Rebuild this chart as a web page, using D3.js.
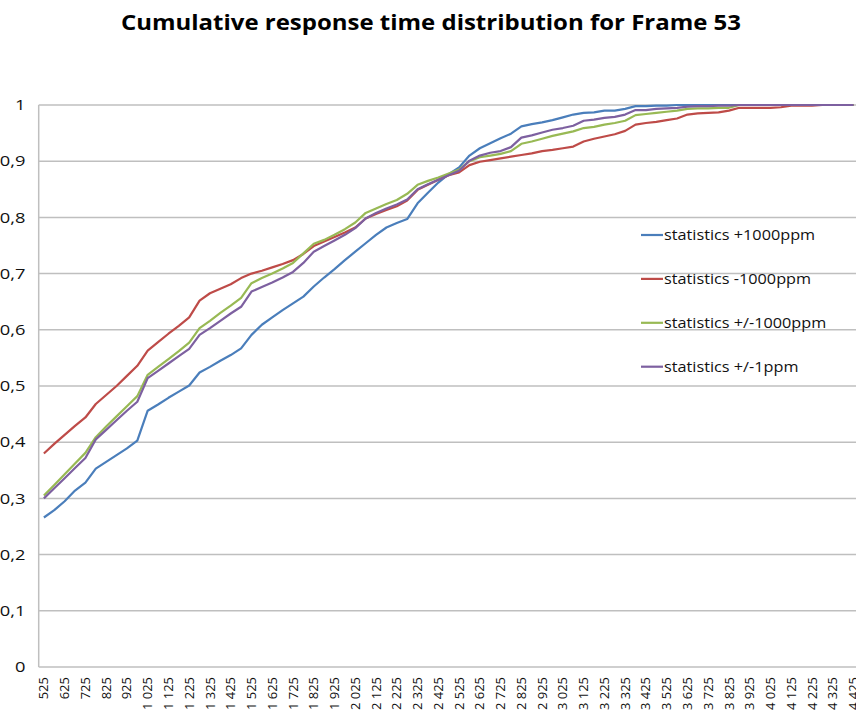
<!DOCTYPE html>
<html>
<head>
<meta charset="utf-8">
<script src="https://cdn.jsdelivr.net/npm/d3@7"></script>
<style>
  body { margin: 0; background: #fff; overflow: hidden; }
  svg { display: block; font-family: "Open Sans", "DejaVu Sans", sans-serif; }
  .grid line { stroke: #bfbfbf; stroke-width: 1.5; }
  .y-label, .x-axis text { fill: #111; }
  .series { fill: none; stroke-width: 2.2; stroke-linejoin: round; }
</style>
</head>
<body>
<svg id="chart" width="856" height="716"></svg>
<script>
// response time buckets (ms)
var categories = [525, 575, 625, 675, 725, 775, 825, 875, 925, 975,
  1025, 1075, 1125, 1175, 1225, 1275, 1325, 1375, 1425, 1475,
  1525, 1575, 1625, 1675, 1725, 1775, 1825, 1875, 1925, 1975,
  2025, 2075, 2125, 2175, 2225, 2275, 2325, 2375, 2425, 2475,
  2525, 2575, 2625, 2675, 2725, 2775, 2825, 2875, 2925, 2975,
  3025, 3075, 3125, 3175, 3225, 3275, 3325, 3375, 3425, 3475,
  3525, 3575, 3625, 3675, 3725, 3775, 3825, 3875, 3925, 3975,
  4025, 4075, 4125, 4175, 4225, 4275, 4325, 4375, 4425];

var seriesNames = ["statistics +1000ppm", "statistics -1000ppm",
  "statistics +/-1000ppm", "statistics +/-1ppm"];
var seriesColors = ["#4a7ebb", "#be4b48", "#98b954", "#7d60a0"];

var plus1000 = [0.266, 0.279, 0.295, 0.314, 0.328, 0.353, 0.365, 0.377, 0.389, 0.403,
  0.456, 0.467, 0.479, 0.490, 0.501, 0.524, 0.534, 0.545, 0.555, 0.567,
  0.591, 0.609, 0.622, 0.635, 0.647, 0.659, 0.677, 0.693, 0.708, 0.724,
  0.739, 0.754, 0.769, 0.782, 0.790, 0.797, 0.825, 0.844, 0.862, 0.877,
  0.889, 0.910, 0.923, 0.932, 0.941, 0.949, 0.962, 0.966, 0.969, 0.973,
  0.978, 0.983, 0.986, 0.987, 0.990, 0.990, 0.993, 0.998, 0.998, 0.999,
  0.999, 1, 1, 1, 1, 1, 1, 1, 1, 1,
  1, 1, 1, 1, 1, 1, 1, 1, 1];

var minus1000 = [0.380, 0.397, 0.413, 0.429, 0.444, 0.468, 0.484, 0.500, 0.518, 0.536,
  0.563, 0.578, 0.593, 0.607, 0.622, 0.652, 0.665, 0.673, 0.681, 0.692,
  0.700, 0.705, 0.711, 0.717, 0.724, 0.735, 0.749, 0.757, 0.765, 0.773,
  0.782, 0.798, 0.806, 0.813, 0.820, 0.830, 0.849, 0.858, 0.867, 0.875,
  0.880, 0.893, 0.899, 0.902, 0.905, 0.908, 0.911, 0.914, 0.918, 0.920,
  0.923, 0.926, 0.935, 0.940, 0.944, 0.948, 0.954, 0.965, 0.968, 0.970,
  0.973, 0.976, 0.983, 0.985, 0.986, 0.987, 0.990, 0.995, 0.995, 0.995,
  0.995, 0.996, 0.999, 0.999, 0.999, 1, 1, 1, 1];

var plusMinus1000 = [0.305, 0.324, 0.343, 0.362, 0.381, 0.409, 0.428, 0.446, 0.464, 0.482,
  0.520, 0.534, 0.548, 0.562, 0.577, 0.603, 0.616, 0.630, 0.643, 0.657,
  0.683, 0.692, 0.700, 0.709, 0.719, 0.736, 0.753, 0.760, 0.769, 0.779,
  0.791, 0.808, 0.816, 0.824, 0.831, 0.842, 0.858, 0.865, 0.871, 0.878,
  0.885, 0.900, 0.907, 0.910, 0.913, 0.918, 0.931, 0.935, 0.940, 0.945,
  0.949, 0.953, 0.959, 0.961, 0.965, 0.968, 0.972, 0.982, 0.984, 0.986,
  0.988, 0.990, 0.993, 0.994, 0.994, 0.995, 0.995, 1, 1, 1,
  1, 1, 1, 1, 1, 1, 1, 1, 1];

var plusMinus1 = [0.300, 0.318, 0.336, 0.354, 0.372, 0.405, 0.422, 0.439, 0.456, 0.472,
  0.514, 0.527, 0.540, 0.553, 0.566, 0.591, 0.603, 0.616, 0.629, 0.641,
  0.668, 0.676, 0.684, 0.693, 0.703, 0.719, 0.739, 0.749, 0.759, 0.769,
  0.781, 0.798, 0.808, 0.816, 0.823, 0.832, 0.850, 0.859, 0.867, 0.875,
  0.883, 0.901, 0.910, 0.915, 0.918, 0.925, 0.942, 0.946, 0.951, 0.956,
  0.959, 0.963, 0.972, 0.974, 0.977, 0.979, 0.983, 0.991, 0.991, 0.993,
  0.994, 0.995, 0.997, 0.998, 0.998, 0.999, 0.999, 1, 1, 1,
  1, 1, 1, 1, 1, 1, 1, 1, 1];

var yTicks = [0, 0.1, 0.2, 0.3, 0.4, 0.5, 0.6, 0.7, 0.8, 0.9, 1];
var yTickLabels = ["0", "0,1", "0,2", "0,3", "0,4", "0,5", "0,6", "0,7", "0,8", "0,9", "1"];

var allSeries = [plus1000, minus1000, plusMinus1000, plusMinus1];

var svg = d3.select("#chart");

// plot area, the right edge runs past the picture like in the original
var plot = { left: 38.7, top: 105, bottom: 667, right: 858.7 };
// the original picture is stretched sideways, texts follow that
var stretch = 1.22;

var x = d3.scaleBand().domain(categories).range([plot.left, plot.right]);
var y = d3.scaleLinear().domain([0, 1]).range([plot.bottom, plot.top]);

// title
svg.append("text")
  .attr("x", 431)
  .attr("y", 30)
  .attr("text-anchor", "middle")
  .attr("textLength", 620)
  .attr("lengthAdjust", "spacingAndGlyphs")
  .style("font-size", "21px")
  .style("font-weight", "bold")
  .text("Cumulative response time distribution for Frame 53");

// horizontal grid
svg.append("g")
  .attr("class", "grid")
  .selectAll("line")
  .data(yTicks)
  .enter().append("line")
    .attr("x1", plot.left)
    .attr("x2", 856)
    .attr("y1", function(d) { return y(d); })
    .attr("y2", function(d) { return y(d); });

svg.append("line")
  .attr("x1", plot.left).attr("x2", plot.left)
  .attr("y1", plot.top).attr("y2", plot.bottom)
  .attr("stroke", "#bfbfbf")
  .attr("stroke-width", 1.5);

// y labels
svg.append("g")
  .selectAll("text")
  .data(yTicks)
  .enter().append("text")
    .attr("class", "y-label")
    .attr("transform", function(d) { return "translate(25.5," + y(d) + ") scale(" + stretch + ",1)"; })
    .attr("dy", "0.35em")
    .attr("text-anchor", "end")
    .style("font-size", "15px")
    .text(function(d, i) { return yTickLabels[i]; });

// x axis, one label every 100
var fmt = function(d) {
  var s = String(d);
  return s.length > 3 ? s.slice(0, s.length - 3) + " " + s.slice(-3) : s;
};

var xAxis = svg.append("g")
  .attr("class", "x-axis")
  .attr("transform", "translate(0," + plot.bottom + ")")
  .call(d3.axisBottom(x)
    .tickValues(categories.filter(function(d, i) { return i % 2 === 0; }))
    .tickSize(0)
    .tickFormat(fmt));

xAxis.select(".domain").remove();
xAxis.selectAll("text")
  .attr("transform", "rotate(-90)")
  .attr("x", -10)
  .attr("y", 0)
  .attr("dy", "0.35em")
  .style("text-anchor", "end")
  .style("font-size", "13px")
  .style("font-family", "'Open Sans', sans-serif");

// lines
var line = d3.line()
  .x(function(d, i) { return x(categories[i]) + x.bandwidth() / 2; })
  .y(function(d) { return y(d); });

svg.selectAll(".series")
  .data(allSeries)
  .enter().append("path")
    .attr("class", "series")
    .attr("stroke", function(d, i) { return seriesColors[i]; })
    .attr("d", line);

// legend
var legend = svg.append("g")
  .attr("transform", "translate(641,235)");

var item = legend.selectAll("g")
  .data(seriesNames)
  .enter().append("g")
    .attr("transform", function(d, i) { return "translate(0," + (i * 43.9) + ")"; });

item.append("line")
  .attr("x1", 0).attr("x2", 22)
  .attr("stroke", function(d, i) { return seriesColors[i]; })
  .attr("stroke-width", 2.2);

item.append("text")
  .attr("transform", "translate(23,0) scale(1.16,1)")
  .attr("dy", "0.35em")
  .style("font-size", "14px")
  .style("fill", "#111")
  .text(function(d) { return d; });
</script>
</body>
</html>
